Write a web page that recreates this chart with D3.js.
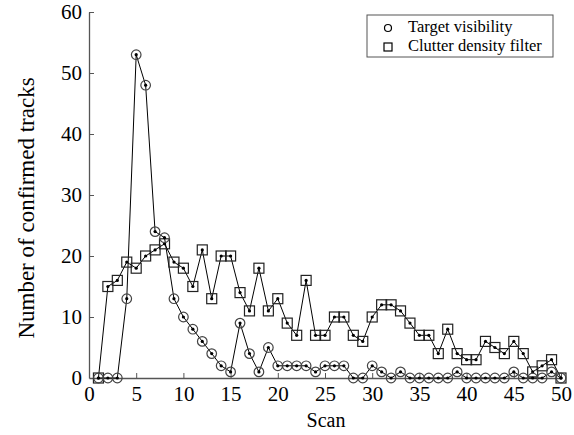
<!DOCTYPE html>
<html>
<head>
<meta charset="utf-8">
<script src="https://cdn.jsdelivr.net/npm/d3@7"></script>
<style>
  body { margin: 0; background: #fff; }
  svg text { font-family: "Liberation Serif", "Times New Roman", serif; fill: #000; }
</style>
</head>
<body>
<div id="chart"></div>
<script>
// scan numbers 1..50
const scans = d3.range(1, 51);
const targetVisibility = [0, 0, 0, 13, 53, 48, 24, 23, 13, 10,
    8, 6, 4, 2, 1, 9, 4, 1, 5, 2,
    2, 2, 2, 1, 2, 2, 2, 0, 0, 2,
    1, 0, 1, 0, 0, 0, 0, 0, 1, 0,
    0, 0, 0, 0, 1, 0, 0, 0, 1, 0];
const clutterDensity = [0, 15, 16, 19, 18, 20, 21, 22, 19, 18,
    15, 21, 13, 20, 20, 14, 11, 18, 11, 13,
    9, 7, 16, 7, 7, 10, 10, 7, 6, 10,
    12, 12, 11, 9, 7, 7, 4, 8, 4, 3,
    3, 6, 5, 4, 6, 4, 1, 2, 3, 0];
const xTicks = d3.range(0, 51, 5);
const yTicks = d3.range(0, 61, 10);
const legendLabels = ['Target visibility', 'Clutter density filter'];

const width = 574, height = 435;
const margin = {left: 89, right: 13, top: 12, bottom: 57};

const svg = d3.select('#chart').append('svg')
    .attr('width', width)
    .attr('height', height);

const x = d3.scaleLinear().domain([0, 50]).range([margin.left, width - margin.right]);
const y = d3.scaleLinear().domain([0, 60]).range([height - margin.bottom, margin.top]);

// axes
const xAxis = svg.append('g')
    .attr('transform', `translate(0, ${y(0)})`)
    .call(d3.axisBottom(x).tickValues(xTicks).tickSizeInner(-5).tickSizeOuter(0).tickPadding(8));
const yAxis = svg.append('g')
    .attr('transform', `translate(${x(0)}, 0)`)
    .call(d3.axisLeft(y).tickValues(yTicks).tickSizeInner(-5).tickSizeOuter(0).tickPadding(7));

[xAxis, yAxis].forEach(a => {
    a.select('.domain').attr('stroke', '#555').attr('stroke-width', 1.3);
    a.selectAll('.tick line').attr('stroke', '#555');
    a.selectAll('.tick text')
        .style('font-family', '"Liberation Serif", serif')
        .style('font-size', '21px')
        .attr('fill', '#000');
});
xAxis.selectAll('.tick line').filter(d => d === 0).remove();
yAxis.selectAll('.tick line').filter(d => d === 0).remove();

svg.append('text')
    .attr('x', 326)
    .attr('y', 427)
    .attr('text-anchor', 'middle')
    .style('font-size', '20px')
    .text('Scan');

svg.append('text')
    .attr('transform', 'translate(34, 208) rotate(-90)')
    .attr('text-anchor', 'middle')
    .style('font-size', '23px')
    .text('Number of confirmed tracks');

// lines
const line = d3.line().x((d, i) => x(scans[i])).y(d => y(d));

svg.append('path').datum(clutterDensity)
    .attr('d', line).attr('fill', 'none').attr('stroke', '#000').attr('stroke-width', 1);
svg.append('path').datum(targetVisibility)
    .attr('d', line).attr('fill', 'none').attr('stroke', '#000').attr('stroke-width', 1);

// markers
const sq = svg.append('g').selectAll('g').data(clutterDensity).join('g')
    .attr('transform', (d, i) => `translate(${x(scans[i])}, ${y(d)})`);
sq.append('rect')
    .attr('x', -5).attr('y', -5).attr('width', 10).attr('height', 10)
    .attr('fill', 'none').attr('stroke', '#222').attr('stroke-width', 1.2);
sq.append('circle').attr('r', 1.6).attr('fill', '#000');

const circ = svg.append('g').selectAll('g').data(targetVisibility).join('g')
    .attr('transform', (d, i) => `translate(${x(scans[i])}, ${y(d)})`);
circ.append('circle')
    .attr('r', 4.8)
    .attr('fill', 'none').attr('stroke', '#444').attr('stroke-width', 1.2);
circ.append('circle').attr('r', 1.6).attr('fill', '#000');

// legend
const legend = svg.append('g');
legend.append('rect')
    .attr('x', 367).attr('y', 15).attr('width', 186).attr('height', 42)
    .attr('fill', '#fff').attr('stroke', '#555').attr('stroke-width', 1);
legend.append('circle')
    .attr('cx', 388).attr('cy', 28).attr('r', 3.5)
    .attr('fill', 'none').attr('stroke', '#000').attr('stroke-width', 1.2);
legend.append('rect')
    .attr('x', 384).attr('y', 43).attr('width', 8).attr('height', 8)
    .attr('fill', 'none').attr('stroke', '#000').attr('stroke-width', 1.2);
legend.selectAll('text.leg').data(legendLabels).join('text')
    .attr('class', 'leg')
    .attr('x', 408)
    .attr('y', (d, i) => 32 + i * 19)
    .style('font-size', '16.5px')
    .text(d => d);
</script>
</body>
</html>
